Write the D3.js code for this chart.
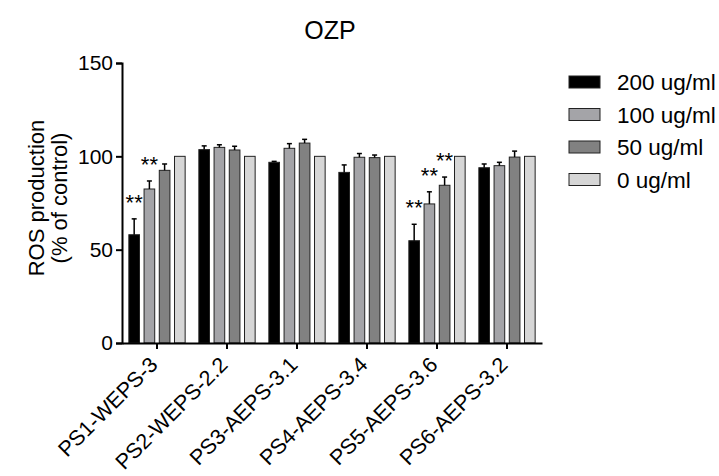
<!DOCTYPE html>
<html>
<head>
<meta charset="utf-8">
<script src="https://cdn.jsdelivr.net/npm/d3@7"></script>
<style>
  body { margin: 0; background: #fff; }
  svg { font-family: "Liberation Sans", Arial, sans-serif; }
</style>
</head>
<body>
<svg id="chart" width="719" height="476"></svg>
<script>
// chart data
const groups = ['PS1-WEPS-3', 'PS2-WEPS-2.2', 'PS3-AEPS-3.1', 'PS4-AEPS-3.4', 'PS5-AEPS-3.6', 'PS6-AEPS-3.2'];
const doses = ['200 ug/ml', '100 ug/ml', '50 ug/ml', '0 ug/ml'];
const doseColors = ['#000000', '#a4a4a8', '#818181', '#d6d6d6'];

const v200 = [58, 103.6, 96.8, 91.4, 54.8, 93.9];
const v100 = [82.5, 104.8, 104.3, 99.5, 74.5, 95];
const v50 = [92.5, 103.4, 107.1, 99.3, 84.5, 99.6];
const v0 = [100, 100, 100, 100, 100, 100];

const e200 = [8.5, 2, 0.5, 4, 8.8, 2];
const e100 = [4.3, 1.4, 2.5, 2, 6.5, 1.8];
const e50 = [3.4, 2, 2, 1.4, 4.4, 3.2];
const e0 = [0, 0, 0, 0, 0, 0];

// which bars get the "**" mark: [group index, dose index]
const starred = [[0, 0], [0, 1], [4, 0], [4, 1], [4, 2]];

const yTicks = [0, 50, 100, 150];

const values = [v200, v100, v50, v0];
const errors = [e200, e100, e50, e0];

const width = 719, height = 476;
const margin = { top: 63, right: 177, bottom: 133, left: 122 };

const svg = d3.select('#chart');

const x0 = d3.scaleBand()
  .domain(groups)
  .range([margin.left, width - margin.right])
  .padding(0);

const x1 = d3.scaleBand()
  .domain(doses)
  .range([0, x0.bandwidth()])
  .paddingInner(0.3)
  .paddingOuter(0.45);

const y = d3.scaleLinear()
  .domain([0, 150])
  .range([height - margin.bottom, margin.top]);

// flatten into one record per bar
const bars = [];
groups.forEach((g, gi) => {
  doses.forEach((d, di) => {
    bars.push({ group: g, dose: d, gi, di, value: values[di][gi], err: errors[di][gi] });
  });
});

const cx = d => x0(d.group) + x1(d.dose) + x1.bandwidth() / 2;

const barG = svg.append('g');

barG.selectAll('rect')
  .data(bars)
  .enter().append('rect')
  .attr('x', d => x0(d.group) + x1(d.dose))
  .attr('y', d => y(d.value))
  .attr('width', x1.bandwidth())
  .attr('height', d => y(0) - y(d.value))
  .attr('fill', d => doseColors[d.di])
  .attr('stroke', '#222')
  .attr('stroke-width', 1);

// error bars, upward only
const errBars = bars.filter(d => d.err > 0);
const errG = barG.selectAll('g.err')
  .data(errBars)
  .enter().append('g')
  .attr('class', 'err')
  .attr('stroke', '#000')
  .attr('stroke-width', 1.5);

errG.append('line')
  .attr('x1', cx)
  .attr('x2', cx)
  .attr('y1', d => y(d.value))
  .attr('y2', d => y(d.value + d.err));

errG.append('line')
  .attr('x1', d => cx(d) - 2.5)
  .attr('x2', d => cx(d) + 2.5)
  .attr('y1', d => y(d.value + d.err))
  .attr('y2', d => y(d.value + d.err));

// significance marks
svg.append('g').selectAll('text')
  .data(starred.map(([gi, di]) => bars.find(b => b.gi === gi && b.di === di)))
  .enter().append('text')
  .attr('x', cx)
  .attr('y', d => y(d.value + d.err) - 9)
  .attr('text-anchor', 'middle')
  .attr('font-size', 22)
  .text('**');

// axes
const yAxis = svg.append('g')
  .attr('transform', `translate(${margin.left},0)`)
  .call(d3.axisLeft(y).tickValues(yTicks).tickSize(6).tickPadding(3));

const xAxis = svg.append('g')
  .attr('transform', `translate(0,${y(0)})`)
  .call(d3.axisBottom(x0).tickSize(6).tickSizeOuter(0).tickFormat(''));

[yAxis, xAxis].forEach(ax => {
  ax.attr('font-family', null);
  ax.select('.domain').attr('stroke', '#000').attr('stroke-width', 2);
  ax.selectAll('.tick line').attr('stroke', '#000').attr('stroke-width', 2);
});

yAxis.selectAll('.tick text')
  .attr('font-size', 21)
  .attr('fill', '#000');

// rotated group labels
svg.append('g').selectAll('text')
  .data(groups)
  .enter().append('text')
  .attr('transform', d => `translate(${x0(d) + x0.bandwidth() / 2 + 2},${y(0) + 23}) rotate(-45)`)
  .attr('text-anchor', 'end')
  .attr('font-size', 21.5)
  .text(d => d);

// title
svg.append('text')
  .attr('x', 330)
  .attr('y', 39)
  .attr('text-anchor', 'middle')
  .attr('font-size', 25)
  .text('OZP');

// y axis title
const yTitle = svg.append('text')
  .attr('transform', `translate(0,${(y(0) + y(150)) / 2 - 5}) rotate(-90)`)
  .attr('text-anchor', 'middle')
  .attr('font-size', 22);
yTitle.append('tspan').attr('x', 0).attr('y', 44).text('ROS production');
yTitle.append('tspan').attr('x', 0).attr('y', 67).text('(% of control)');

// legend
const legend = svg.append('g')
  .attr('transform', 'translate(569,76)');

const item = legend.selectAll('g')
  .data(doses)
  .enter().append('g')
  .attr('transform', (d, i) => `translate(0,${i * 32.5})`);

item.append('rect')
  .attr('width', 31)
  .attr('height', 12)
  .attr('fill', (d, i) => doseColors[i])
  .attr('stroke', '#222')
  .attr('stroke-width', 1);

item.append('text')
  .attr('x', 48)
  .attr('y', 14)
  .attr('font-size', 22.5)
  .text(d => d);
</script>
</body>
</html>
